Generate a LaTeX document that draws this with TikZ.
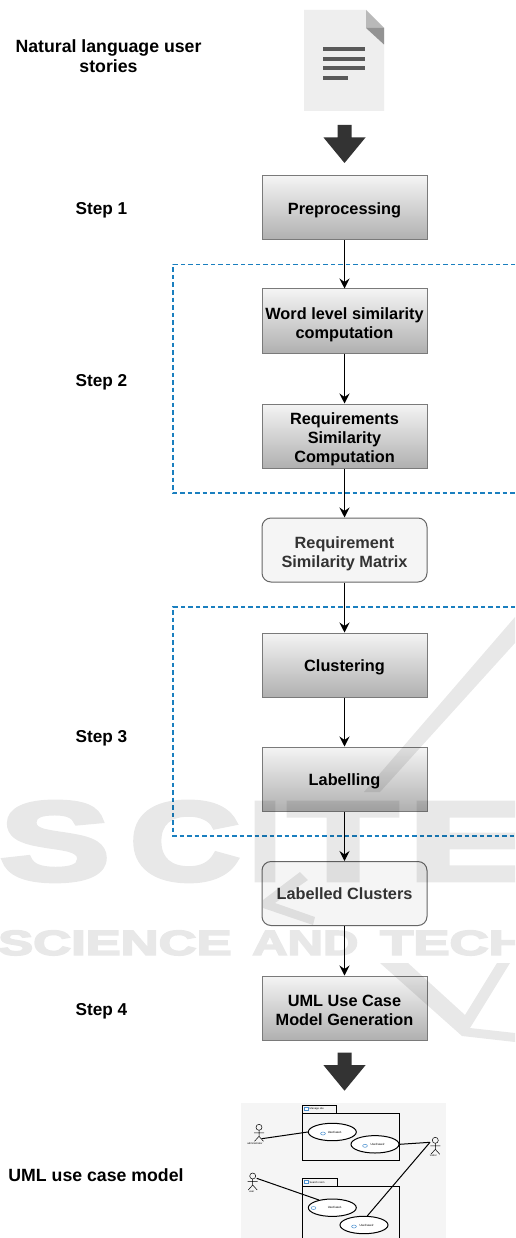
\documentclass[tikz,border=0pt]{standalone}
\usepackage{xcolor}
\usepackage{fontspec}
\setmainfont{Liberation Sans}
\newfontfamily\markfont[FakeBold=4]{Liberation Sans Bold}
\usetikzlibrary{arrows.meta,shapes.geometric}

\definecolor{boxtop}{HTML}{F4F4F4}
\definecolor{boxbottom}{HTML}{B0B0B0}
\definecolor{boxline}{HTML}{7A7A7A}
\definecolor{softfill}{HTML}{F5F5F5}
\definecolor{softline}{HTML}{666666}
\definecolor{softtext}{HTML}{333333}
\definecolor{groupblue}{HTML}{1A7FBF}
\definecolor{darkarrow}{HTML}{333333}
\definecolor{pagegrey}{HTML}{EEEEEE}
\definecolor{umlblue}{HTML}{4A90D0}

\newcommand{\stacklines}[1]{\raisebox{-4pt}[\height][\depth]{\begin{tabular}{@{}c@{}}#1\end{tabular}}}

\tikzset{
  centred text/.style={execute at begin node={\rule{0pt}{19pt}},execute at end node={\rule[-6.4pt]{0pt}{6.4pt}}},
  stepbox/.style={draw=boxline,line width=1pt,top color=boxtop,bottom color=boxbottom,
    minimum width=165pt,minimum height=64pt,inner sep=0pt,align=center,centred text,
    font=\fontsize{16.3}{19}\selectfont\bfseries},
  softbox/.style={stepbox,draw=softline,fill=softfill,top color=softfill,bottom color=softfill,
    rounded corners=9pt,text=softtext},
  sidelabel/.style={align=center,inner sep=0pt,centred text,font=\fontsize{17.2}{20}\selectfont\bfseries},
  longlabel/.style={sidelabel,font=\fontsize{17.7}{20}\selectfont\bfseries},
  flow/.style={-{Stealth[length=10pt,width=10pt,inset=3.5pt]},line width=1pt,black},
  groupframe/.style={groupblue,line width=1.1pt,dash pattern=on 4.5pt off 3pt},
  usecase/.style={ellipse,draw=black,fill=white,line width=1pt,minimum width=48pt,minimum height=17.4pt,
    inner sep=0pt,font=\fontsize{3}{3}\selectfont},
  umlline/.style={black,line width=1pt},
  tiny label/.style={inner sep=0pt,font=\fontsize{2.6}{3}\selectfont},
  blockarrow/.pic={\fill[darkarrow] (-7,0) -- (7,0) -- (7,12.5) -- (21,12.5) -- (0,38) -- (-21,12.5) -- (-7,12.5) -- cycle;},
  actorfig/.pic={
    \draw[black,line width=.5pt] (0,0) circle (3pt);
    \draw[black,line width=.5pt] (0,3) -- (0,9) (-5,5.5) -- (5,5.5) (-4.5,14) -- (0,9) -- (4.5,14);},
  smallcase/.pic={\draw[umlblue,line width=.5pt,fill=white] (0,0) ellipse (2.4pt and 1.5pt);},
  smallfolder/.pic={\draw[umlblue,line width=.5pt,fill=white] (0,0) rectangle (4.5,3.5);}
}

\begin{document}
\begin{tikzpicture}[x=1pt,y=-1pt]
  \useasboundingbox (0,0) rectangle (515,1238);
  \fill[white] (0,0) rectangle (515,1238);

  \fill[pagegrey] (304,10) -- (366,10) -- (384,28) -- (384,111) -- (304,111) -- cycle;
  \fill[gray!55] (366,10) -- (366,28) -- (384,28) -- cycle;
  \fill[gray!85] (366,28) -- (384,28) -- (384,44.5) -- cycle;
  \fill[black!65] (323,47) rectangle (365,51);
  \fill[black!65] (323,57) rectangle (365,61);
  \fill[black!65] (323,66.5) rectangle (365,70.5);
  \fill[black!65] (323,76.5) rectangle (348,80);
  \pic at (344.5,125) {blockarrow};

  \draw[groupframe] (515,264.5) -- (173,264.5) -- (173,493) -- (515,493);
  \draw[groupframe] (515,607) -- (173,607) -- (173,836) -- (515,836);

  \node[longlabel] (stories) at (108.5,59) {Natural language user\\stories};
  \node[sidelabel] (stepone) at (101.5,208) {Step 1};
  \node[sidelabel] (steptwo) at (101.5,380) {Step 2};
  \node[sidelabel] (stepthree) at (101.5,736) {Step 3};
  \node[sidelabel] (stepfour) at (101.5,1009) {Step 4};
  \node[longlabel] (umlmodel) at (96,1175) {UML use case model};

  \node[stepbox] (preprocessing) at (344.5,208) {Preprocessing};
  \node[stepbox] (wordsim) at (344.5,321) {\stacklines{Word level similarity\\computation}};
  \node[stepbox] (reqsim) at (344.5,436) {\stacklines{Requirements\\Similarity\\Computation}};
  \node[softbox] (matrix) at (344.5,550) {\stacklines{Requirement\\Similarity Matrix}};
  \node[stepbox] (clustering) at (344.5,665) {Clustering};
  \node[stepbox] (labelling) at (344.5,779) {Labelling};
  \node[softbox] (clusters) at (344.5,893.5) {Labelled Clusters};
  \node[stepbox] (generation) at (344.5,1008) {\stacklines{UML Use Case\\Model Generation}};

  \draw[flow] (preprocessing) -- (wordsim);
  \draw[flow] (wordsim) -- (reqsim);
  \draw[flow] (reqsim) -- (matrix);
  \draw[flow] (matrix) -- (clustering);
  \draw[flow] (clustering) -- (labelling);
  \draw[flow] (labelling) -- (clusters);
  \draw[flow] (clusters) -- (generation);

  \pic at (344.5,1052.7) {blockarrow};

  \begin{scope}
    \clip (241,1103) rectangle (446,1238);
    \fill[softfill] (241,1103) rectangle (446,1238);
    \draw[umlline] (302.3,1105.3) rectangle (336.3,1113.3);
    \draw[umlline] (302.3,1113.3) rectangle (399.3,1160);
    \draw[umlline] (302.3,1178.3) rectangle (337.3,1186);
    \draw[umlline] (302.3,1186) rectangle (399.3,1250);
    \pic at (304,1107) {smallfolder};
    \pic at (304,1180) {smallfolder};
    \node[tiny label,anchor=west] (manage) at (309.5,1109.3) {Manage site};
    \node[tiny label,anchor=west] (search) at (309.5,1182.3) {Search room};

    \node[usecase] (caseone) at (332.3,1132) {\hspace{5pt}UseCase1};
    \node[usecase] (casetwo) at (375,1144.3) {\hspace{5pt}UseCase2};
    \node[usecase] (casethree) at (332.3,1207.7) {\hspace{5pt}UseCase1};
    \node[usecase] (casefour) at (364,1225) {\hspace{5pt}UseCase2};
    \pic at (323,1133.5) {smallcase};
    \pic at (365,1145.8) {smallcase};
    \pic at (313.5,1208) {smallcase};
    \pic at (354,1226.5) {smallcase};

    \pic at (259,1127.3) {actorfig};
    \pic at (252.7,1176) {actorfig};
    \pic at (435.3,1140.3) {actorfig};
    \node[tiny label] (administrator) at (255,1143.5) {administrator};
    \node[tiny label] (user) at (251.7,1191.7) {user};
    \node[tiny label] (visitor) at (433.3,1155.7) {visitor};

    \coordinate (adminhand) at (261.7,1138.7);
    \coordinate (userhand) at (256.7,1178.3);
    \coordinate (visitorhand) at (430,1142.3);
    \draw[umlline] (adminhand) -- (caseone.west);
    \draw[umlline] (userhand) -- (casethree.150);
    \draw[umlline] (visitorhand) -- (casetwo.east);
    \draw[umlline] (visitorhand) -- (casefour.70);
  \end{scope}

  \begin{scope}[transparency group,opacity=.09,every node/.style={inner sep=0pt,text=black}]
    \clip (0,0) rectangle (515,1238);
    \foreach \letter/\xpos/\xstretch in {S/55/1.47,C/185/1.36,I/265/1,T/343/1.6,E/468/1.6}
      \node[anchor=base,font=\fontsize{112}{112}\markfont] (mark\letter) at (\xpos,880) {\scalebox{\xstretch}[1]{\letter}};
    \node[anchor=base west,font=\fontsize{35}{35}\markfont] (markscience) at (-2,955) {\scalebox{1.5}[1]{SCIENCE}};
    \node[anchor=base west,font=\fontsize{35}{35}\markfont] (markand) at (252,955) {\scalebox{1.4}[1]{AND}};
    \node[anchor=base west,font=\fontsize{35}{35}\markfont] (marktech) at (380,955) {\scalebox{1.55}[1]{TECH}};
    \fill[black] (515,617) -- (515,643) -- (380,792) -- (364,792) -- cycle;
    \fill[black] (300,872) -- (308,880) -- (275,903) -- (315,917) -- (313,925) -- (263,908) -- (263,900) -- cycle;
    \fill[black] (380,963) -- (408,963) -- (465,1015) -- (497,963) -- (510,963) -- (470,1028) -- (515,1033) -- (515,1042) -- (462,1036) -- cycle;
  \end{scope}
\end{tikzpicture}
\end{document}
